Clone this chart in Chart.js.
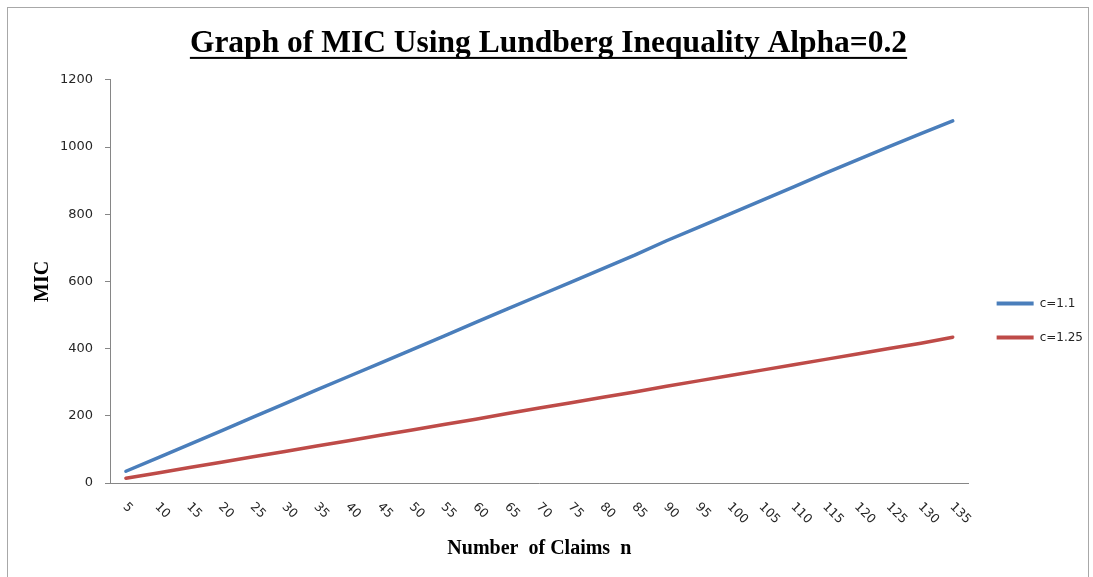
<!DOCTYPE html>
<html>
<head>
<meta charset="utf-8">
<title>Graph of MIC Using Lundberg Inequality Alpha=0.2</title>
<script src="https://cdn.jsdelivr.net/npm/chart.js@4.4.1/dist/chart.umd.min.js"></script>
<style>
  html, body { margin: 0; padding: 0; background: #ffffff; }
  #wrap { position: relative; width: 1093px; height: 577px; overflow: hidden; }
  #wrap canvas { position: absolute; left: 0; top: 0; }
  #frame { position: absolute; left: 7px; top: 7px; width: 1082px; height: 600px;
           border: 1px solid #a8a8a8; box-sizing: border-box; pointer-events: none; }
</style>
</head>
<body>
<div id="wrap">
  <canvas id="chart" width="1093" height="577"></canvas>
  <div id="frame"></div>
</div>
<script>
// Number of claims n (category axis)
const claims = [5, 10, 15, 20, 25, 30, 35, 40, 45, 50, 55, 60, 65, 70, 75,
                80, 85, 90, 95, 100, 105, 110, 115, 120, 125, 130, 135];

// MIC for premium loading c = 1.1
const micC110 = [35, 75, 115, 155, 196, 236, 277, 317, 357, 397, 437, 478, 518, 558,
                 598, 638, 678, 721, 761, 801, 841, 881, 922, 962, 1001, 1040, 1078];

// MIC for premium loading c = 1.25
const micC125 = [14, 30, 46, 62, 78, 94, 110, 126, 142, 158, 174, 190, 207, 223,
                 239, 255, 271, 288, 304, 320, 336, 352, 368, 384, 400, 416, 434];

const seriesNames = ['c=1.1', 'c=1.25'];
const yTicks = [0, 200, 400, 600, 800, 1000, 1200];

const TITLE_SIZE = 31.5;
const TITLE_FONT = 'bold ' + TITLE_SIZE + 'px "Liberation Serif", "Times New Roman", serif';

// Underlined chart title (wraps the built-in title box draw)
const underlinedTitle = {
  id: 'underlinedTitle',
  afterInit(chart, args, opts) {
    const tb = chart.titleBlock;
    if (!tb || tb._underlined) return;
    const baseDraw = tb.draw.bind(tb);
    tb._underlined = true;
    tb.draw = function () {
      const ctx = chart.ctx;
      const cx = (tb.left + tb.right) / 2;
      baseDraw();
      ctx.save();
      ctx.font = TITLE_FONT;
      const w = ctx.measureText(tb.options.text).width;
      const pad = tb.options.padding;
      const mid = tb.top + pad.top + TITLE_SIZE * 1.2 / 2;
      ctx.fillStyle = tb.options.color;
      ctx.fillRect(cx - w / 2, mid + opts.underlineOffset, w, opts.underlineWidth);
      ctx.restore();
    };
  }
};

// Category labels slanted downward to the right, starting at each tick
const slantedTicks = {
  id: 'slantedTicks',
  afterDraw(chart, args, opts) {
    const s = chart.scales.x;
    const ctx = chart.ctx;
    ctx.save();
    ctx.font = opts.font;
    ctx.fillStyle = opts.color;
    ctx.textAlign = 'left';
    ctx.textBaseline = 'middle';
    s.ticks.forEach((t, i) => {
      const x = s.getPixelForTick(i);
      ctx.save();
      ctx.translate(x + opts.dx, s.top + opts.dy);
      ctx.rotate(Math.PI / 4);
      ctx.fillText(String(s.getLabelForValue(t.value)), 0, 0);
      ctx.restore();
    });
    ctx.restore();
  }
};

// Nudge the legend block into place beside the plot
const legendShift = {
  id: 'legendShift',
  afterLayout(chart, args, opts) {
    const lg = chart.legend;
    if (!lg) return;
    lg.left += opts.dx; lg.right += opts.dx;
    lg.top += opts.dy; lg.bottom += opts.dy;
  }
};

const AXIS_GREY = '#868686';
const TEXT = '#262626';

new Chart(document.getElementById('chart'), {
  type: 'line',
  data: {
    labels: claims,
    datasets: [
      {
        label: seriesNames[0],
        data: micC110,
        borderColor: '#4A7EBB',
        backgroundColor: '#4A7EBB',
        borderWidth: 3.5,
        borderCapStyle: 'round',
        borderJoinStyle: 'round',
        pointRadius: 0,
        tension: 0
      },
      {
        label: seriesNames[1],
        data: micC125,
        borderColor: '#BE4B48',
        backgroundColor: '#BE4B48',
        borderWidth: 3.5,
        borderCapStyle: 'round',
        borderJoinStyle: 'round',
        pointRadius: 0,
        tension: 0
      }
    ]
  },
  options: {
    responsive: false,
    animation: false,
    devicePixelRatio: 1,
    layout: { padding: { left: 10, right: 6, top: 10, bottom: 10 } },
    scales: {
      x: {
        type: 'category',
        offset: true,
        grid: { display: false },
        border: { display: true, color: AXIS_GREY, width: 1 },
        ticks: { display: false },
        afterFit(scale) { scale.height = 84; },
        title: {
          display: true,
          text: 'Number  of Claims  n',
          color: '#000000',
          font: { family: '"Liberation Serif", "Times New Roman", serif', size: 20, weight: 'bold' },
          padding: { top: 0, bottom: 6 }
        }
      },
      y: {
        min: 0,
        max: 1200,
        afterBuildTicks(scale) { scale.ticks = yTicks.map(v => ({ value: v })); },
        grid: { display: true, drawOnChartArea: false, drawTicks: true, tickLength: 5, color: AXIS_GREY },
        border: { display: true, color: AXIS_GREY, width: 1 },
        ticks: {
          color: TEXT,
          padding: 12,
          font: { family: '"DejaVu Sans", Verdana, sans-serif', size: 13 },
          callback: (value) => String(value)
        },
        afterFit(scale) { scale.width = 100; },
        title: {
          display: true,
          text: 'MIC',
          color: '#000000',
          font: { family: '"Liberation Serif", "Times New Roman", serif', size: 20, weight: 'bold' },
          padding: { top: 21, bottom: 0 }
        }
      }
    },
    plugins: {
      title: {
        display: true,
        text: 'Graph of MIC Using Lundberg Inequality Alpha=0.2',
        color: '#000000',
        font: { family: '"Liberation Serif", "Times New Roman", serif', size: TITLE_SIZE, weight: 'bold', lineHeight: 1.2 },
        padding: { top: 15, bottom: 17 }
      },
      legend: {
        position: 'right',
        maxWidth: 120,
        labels: {
          boxWidth: 37,
          boxHeight: 4,
          padding: 22,
          color: TEXT,
          font: { family: '"DejaVu Sans", Verdana, sans-serif', size: 12 },
          generateLabels(chart) {
            return Chart.defaults.plugins.legend.labels.generateLabels(chart)
              .map(item => Object.assign(item, { lineWidth: 0 }));
          }
        }
      },
      tooltip: { enabled: false },
      underlinedTitle: { underlineOffset: 13, underlineWidth: 2 },
      slantedTicks: { font: '12.5px "DejaVu Sans", Verdana, sans-serif', color: TEXT, dx: -1, dy: 22 },
      legendShift: { dx: 6, dy: 32 }
    }
  },
  plugins: [underlinedTitle, slantedTicks, legendShift]
});
</script>
</body>
</html>
